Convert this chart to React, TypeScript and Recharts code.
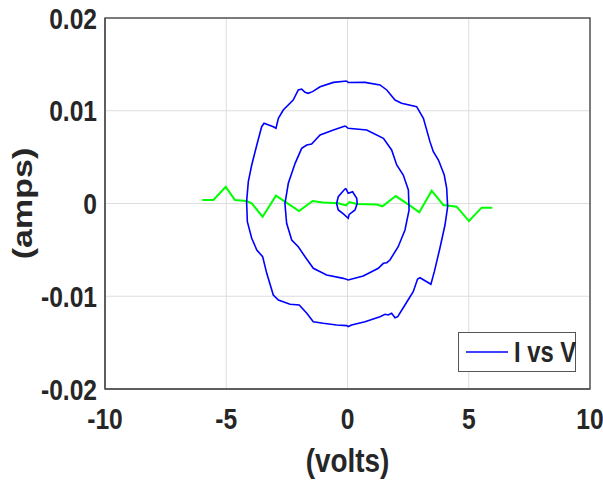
import React from 'react';
import { LineChart, Line, XAxis, YAxis, CartesianGrid, ReferenceArea, Legend } from 'recharts';

const xTicks = [-10, -5, 0, 5, 10];
const yTicks = [-0.02, -0.01, 0, 0.01, 0.02];

const outerLoop = [
  { v: -0.03, i: 0.01321 }, { v: -0.58, i: 0.01306 }, { v: -1.13, i: 0.01259 }, { v: -1.44, i: 0.01206 },
  { v: -1.62, i: 0.01188 }, { v: -1.75, i: 0.01199 }, { v: -1.89, i: 0.01234 }, { v: -2.03, i: 0.01224 },
  { v: -2.24, i: 0.01116 }, { v: -2.65, i: 0.01008 }, { v: -2.85, i: 0.00918 }, { v: -2.95, i: 0.00811 },
  { v: -3.06, i: 0.00828 }, { v: -3.44, i: 0.00865 }, { v: -3.54, i: 0.00828 }, { v: -3.74, i: 0.00631 },
  { v: -3.95, i: 0.00415 }, { v: -4.09, i: 0.00235 }, { v: -4.16, i: 0.00019 }, { v: -4.13, i: -0.00196 },
  { v: -3.95, i: -0.00375 }, { v: -3.74, i: -0.00501 }, { v: -3.5, i: -0.00573 }, { v: -3.33, i: -0.00753 },
  { v: -3.06, i: -0.00987 }, { v: -2.85, i: -0.0104 }, { v: -2.37, i: -0.01087 }, { v: -1.99, i: -0.01094 },
  { v: -1.68, i: -0.01184 }, { v: -1.41, i: -0.01274 }, { v: -1.0, i: -0.01292 }, { v: -0.45, i: -0.0131 },
  { v: -0.03, i: -0.01317 }, { v: 0.03, i: -0.01327 }, { v: 0.17, i: -0.0131 }, { v: 0.72, i: -0.01274 },
  { v: 1.34, i: -0.0122 }, { v: 1.55, i: -0.01195 }, { v: 1.68, i: -0.01202 }, { v: 1.82, i: -0.01184 },
  { v: 1.96, i: -0.01231 }, { v: 2.07, i: -0.0122 }, { v: 2.37, i: -0.01094 }, { v: 2.71, i: -0.00951 },
  { v: 2.89, i: -0.00814 }, { v: 2.99, i: -0.008 }, { v: 3.44, i: -0.00871 }, { v: 3.58, i: -0.00735 },
  { v: 3.81, i: -0.00483 }, { v: 4.02, i: -0.00232 }, { v: 4.13, i: -0.00034 }, { v: 4.09, i: 0.00164 },
  { v: 3.99, i: 0.00307 }, { v: 3.75, i: 0.00469 }, { v: 3.54, i: 0.00559 }, { v: 3.4, i: 0.00667 },
  { v: 3.13, i: 0.00918 }, { v: 2.85, i: 0.01044 }, { v: 2.23, i: 0.0108 }, { v: 1.96, i: 0.01116 },
  { v: 1.62, i: 0.01224 }, { v: 1.34, i: 0.01278 }, { v: 0.72, i: 0.01306 }, { v: 0.03, i: 0.01305 },
  { v: -0.03, i: 0.01321 },
];

const middleLoop = [
  { v: -0.1, i: 0.00836 }, { v: -0.58, i: 0.00792 }, { v: -1.13, i: 0.00739 }, { v: -1.48, i: 0.00642 },
  { v: -1.68, i: 0.00631 }, { v: -1.89, i: 0.00595 }, { v: -2.16, i: 0.00433 }, { v: -2.44, i: 0.00218 },
  { v: -2.58, i: 0.0 }, { v: -2.51, i: -0.00213 }, { v: -2.3, i: -0.00394 }, { v: -2.03, i: -0.00466 },
  { v: -1.75, i: -0.00574 }, { v: -1.41, i: -0.00699 }, { v: -0.86, i: -0.00771 }, { v: -0.17, i: -0.00807 },
  { v: 0.03, i: -0.00825 }, { v: 0.65, i: -0.00782 }, { v: 1.27, i: -0.00699 }, { v: 1.48, i: -0.00645 },
  { v: 1.62, i: -0.00638 }, { v: 1.75, i: -0.00609 }, { v: 2.09, i: -0.00466 }, { v: 2.37, i: -0.00286 },
  { v: 2.54, i: -0.0007 }, { v: 2.51, i: 0.00146 }, { v: 2.3, i: 0.00307 }, { v: 2.03, i: 0.00415 },
  { v: 1.82, i: 0.00577 }, { v: 1.48, i: 0.00703 }, { v: 0.79, i: 0.00792 }, { v: 0.03, i: 0.00811 },
  { v: -0.1, i: 0.00836 },
];

const innerLoop = [
  { v: -0.07, i: 0.00164 }, { v: 0.03, i: 0.0011 }, { v: 0.21, i: 0.00127 }, { v: 0.38, i: 0.00056 },
  { v: 0.4, i: 0.0 }, { v: 0.31, i: -0.0007 }, { v: 0.07, i: -0.00117 }, { v: 0.03, i: -0.0016 },
  { v: -0.17, i: -0.00113 }, { v: -0.38, i: -0.0007 }, { v: -0.45, i: 0.0 }, { v: -0.38, i: 0.00073 },
  { v: -0.17, i: 0.00138 }, { v: -0.07, i: 0.00164 },
];

const greenTrace = [
  { v: -5.99, i: 0.00038 }, { v: -5.53, i: 0.00038 }, { v: -5.02, i: 0.0018 }, { v: -4.64, i: 0.00038 },
  { v: -4.16, i: 0.00027 }, { v: -3.95, i: 0.00002 }, { v: -3.5, i: -0.00142 }, { v: -2.95, i: 0.00084 },
  { v: -2.58, i: 0.0002 }, { v: -2.0, i: -0.00081 }, { v: -1.44, i: 0.00027 }, { v: -1.0, i: 0.0001 },
  { v: -0.38, i: 0.00002 }, { v: -0.06, i: -0.0002 }, { v: 0.08, i: 0.00016 }, { v: 0.38, i: -0.00005 },
  { v: 1.2, i: -0.0001 }, { v: 1.44, i: -0.0003 }, { v: 1.99, i: 0.0008 }, { v: 2.58, i: -0.00023 },
  { v: 2.96, i: -0.00095 }, { v: 3.47, i: 0.00138 }, { v: 3.95, i: -0.00016 }, { v: 4.5, i: -0.00034 },
  { v: 5.01, i: -0.00189 }, { v: 5.53, i: -0.00045 }, { v: 5.97, i: -0.00045 },
];

const legendLabel = 'I vs V';
const xLabel = '(volts)';
const yLabel = '(amps)';

const BLUE = '#0000ff';
const GREEN = '#00ff00';
const TEXT = '#262626';
const FONT = "'Liberation Sans', Arial, Helvetica, sans-serif";
const SX = 0.82;

const XTick = (props: any) => {
  const { x, y, payload } = props;
  return (
    <g transform={`translate(${x},${y}) scale(${SX},1)`}>
      <text x={0} y={0} dy="0.71em" textAnchor="middle" fontFamily={FONT} fontWeight="bold" fontSize={30} fill={TEXT}>
        {String(payload.value)}
      </text>
    </g>
  );
};

const YTick = (props: any) => {
  const { x, y, payload } = props;
  return (
    <g transform={`translate(${x},${y}) scale(${SX},1)`}>
      <text x={0} y={0} dy="0.355em" textAnchor="end" fontFamily={FONT} fontWeight="bold" fontSize={30} fill={TEXT}>
        {String(payload.value)}
      </text>
    </g>
  );
};

const XLabel = (props: any) => {
  const vb = props.viewBox || {};
  const cx = vb.width ? vb.x + vb.width / 2 : 347.5;
  const by = vb.height ? vb.y + vb.height - 11 : 472;
  return (
    <g transform={`translate(${cx},${by}) scale(${SX},1)`}>
      <text x={0} y={0} textAnchor="middle" fontFamily={FONT} fontWeight="bold" fontSize={34} fill={TEXT}>
        {xLabel}
      </text>
    </g>
  );
};

const YLabel = (props: any) => {
  const vb = props.viewBox || {};
  const cx = 23;
  const cy = vb.height ? vb.y + vb.height / 2 : 203.5;
  return (
    <g transform={`translate(${cx},${cy}) scale(${SX},1) rotate(-90)`}>
      <text x={0} y={0} textAnchor="middle" dominantBaseline="central" fontFamily={FONT} fontWeight="bold" fontSize={34} fill={TEXT}>
        {yLabel}
      </text>
    </g>
  );
};

const LegendBox = () => (
  <div
    style={{
      width: 118,
      height: 40,
      boxSizing: 'border-box',
      border: '1px solid #555',
      background: '#fff',
      display: 'flex',
      alignItems: 'center',
      paddingLeft: 7,
    }}
  >
    <svg width={43} height={4} style={{ display: 'block', flex: 'none' }}>
      <line x1={0} y1={2} x2={42} y2={2} stroke={BLUE} strokeWidth={1.6} />
    </svg>
    <span
      style={{
        display: 'inline-block',
        marginLeft: 5,
        fontFamily: FONT,
        fontWeight: 'bold',
        fontSize: 29,
        color: TEXT,
        lineHeight: '30px',
        whiteSpace: 'nowrap',
        transform: `scaleX(${SX})`,
        transformOrigin: 'left center',
      }}
    >
      {legendLabel}
    </span>
  </div>
);

export default function App() {
  return (
    <div style={{ position: 'absolute', left: 0, top: 0, width: 603, height: 483, background: '#fff' }}>
      <LineChart width={603} height={483} margin={{ top: 18, right: 13, bottom: 0, left: 0 }}>
        <CartesianGrid stroke="#dedede" strokeWidth={1} />
        <XAxis
          dataKey="v"
          type="number"
          domain={[-10, 10]}
          ticks={xTicks}
          allowDataOverflow
          height={94}
          tickSize={0}
          tickMargin={19}
          tick={<XTick />}
          axisLine={{ stroke: '#555', strokeWidth: 1.5 }}
          tickLine={false}
          interval={0}
          label={{ content: (p: any) => <XLabel {...p} /> }}
        />
        <YAxis
          dataKey="i"
          type="number"
          domain={[-0.02, 0.02]}
          ticks={yTicks}
          allowDataOverflow
          width={105}
          tickSize={0}
          tickMargin={8}
          tick={<YTick />}
          axisLine={{ stroke: '#555', strokeWidth: 1.5 }}
          tickLine={false}
          interval={0}
          label={{ content: (p: any) => <YLabel {...p} /> }}
        />
        <ReferenceArea x1={-10} x2={10} y1={-0.02} y2={0.02} fill="none" stroke="#555" strokeWidth={1.5} fillOpacity={0} />
        <Line data={greenTrace} dataKey="i" stroke={GREEN} strokeWidth={2} dot={false} isAnimationActive={false} type="linear" />
        <Line data={outerLoop} dataKey="i" stroke={BLUE} strokeWidth={1.6} dot={false} isAnimationActive={false} type="linear" />
        <Line data={middleLoop} dataKey="i" stroke={BLUE} strokeWidth={1.6} dot={false} isAnimationActive={false} type="linear" />
        <Line data={innerLoop} dataKey="i" stroke={BLUE} strokeWidth={1.6} dot={false} isAnimationActive={false} type="linear" />
        <Legend
          layout="vertical"
          align="center"
          verticalAlign="middle"
          content={() => <LegendBox />}
          wrapperStyle={{ position: 'absolute', left: 458, top: 332, width: 118, height: 40 }}
        />
      </LineChart>
    </div>
  );
}
